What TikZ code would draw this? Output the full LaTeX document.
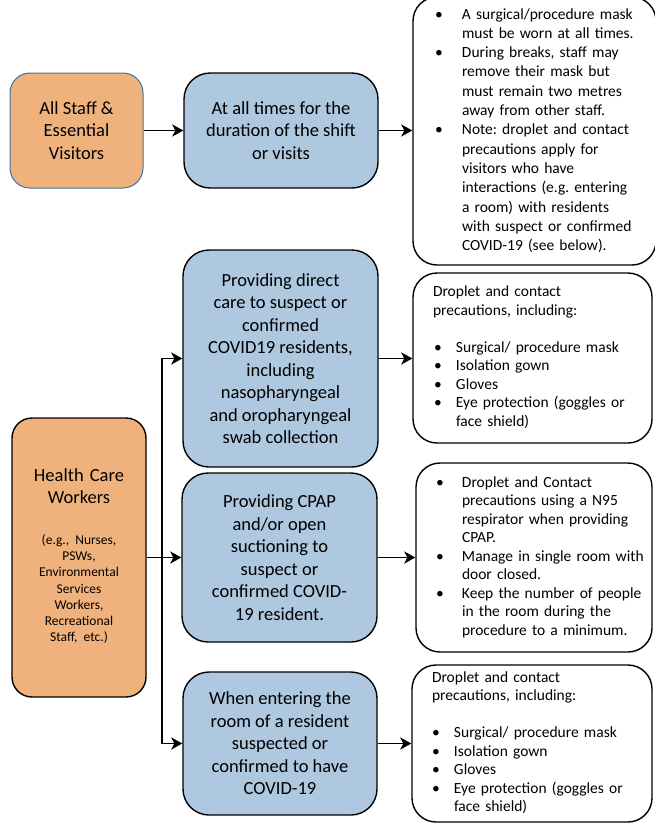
\documentclass[tikz,border=0pt]{standalone}
\usepackage{fontspec}
\setmainfont{Carlito}
\usepackage{tikz}
\usetikzlibrary{arrows.meta}

\definecolor{staffor}{RGB}{240,178,124}
\definecolor{taskblue}{RGB}{174,200,224}
\definecolor{edgeblue}{RGB}{65,113,156}

\frenchspacing
\newenvironment{blist}[2]{\noindent\begin{tabular}{@{\hspace{#1}}p{#2}@{}l@{}}}{\end{tabular}}

\begin{document}
\begin{tikzpicture}[x=1pt,y=-1pt,
		box/.style={rectangle,draw,line width=1.4pt,inner sep=0pt,align=center},
		who/.style={box,fill=staffor,rounded corners=20pt,font=\fontsize{18.5}{22.5}\selectfont},
		task/.style={box,fill=taskblue,rounded corners=26pt,font=\fontsize{18.5}{22.5}\selectfont},
		ppe/.style={box,rounded corners=24pt,align=left,inner xsep=20pt,font=\fontsize{15.5}{18.5}\selectfont},
		arr/.style={line width=1.9pt,-{Stealth[length=11pt,width=12pt,inset=3pt]}}]
		\useasboundingbox (0,0) rectangle (655,833);
		\node[who,draw=edgeblue,line width=1pt,minimum width=133pt,minimum height=115pt] (staff) at (76.5,130.5) {All Staff \&\\Essential\\Visitors};
		\node[task,minimum width=194pt,minimum height=115pt] (shift) at (281,130.5) {At all times for the\\duration of the shift\\or visits};
		\node[ppe,font=\fontsize{15.5}{19.3}\selectfont,text width=203pt,minimum height=268pt] (mask) at (534.5,131) {\begin{blist}{2pt}{27pt}
				\textbullet & A surgical/procedure mask\\
				& must be worn at all times.\\
				\textbullet & During breaks, staff may\\
				& remove their mask but\\
				& must remain two metres\\
				& away from other staff.\\
				\textbullet & Note: droplet and contact\\
				& precautions apply for\\
				& visitors who have\\
				& interactions (e.g. entering\\
				& a room) with residents\\
				& with suspect or confirmed\\
				& COVID-19 (see below).
			\end{blist}};
		\node[task,minimum width=195pt,minimum height=217pt] (care) at (280.5,358.5) {Providing direct\\care to suspect or\\confirmed\\COVID19 residents,\\including\\nasopharyngeal\\and oropharyngeal\\swab collection};
		\node[ppe,text width=199pt,minimum height=170pt] (dropa) at (532.5,358) {\begin{blist}{1pt}{22pt}
				\multicolumn{2}{@{}l@{}}{Droplet and contact}\\
				\multicolumn{2}{@{}l@{}}{precautions, including:}\\
				&\\
				\textbullet & Surgical/ procedure mask\\
				\textbullet & Isolation gown\\
				\textbullet & Gloves\\
				\textbullet & Eye protection (goggles or\\
				& face shield)
			\end{blist}};
		\node[who,minimum width=134pt,minimum height=279pt,text width=130pt] (hcw) at (79,557.5) {Health Care\\Workers\par\vspace{28pt}{\fontsize{13.5}{16.3}\selectfont\begin{tabular}{@{}c@{}}(e.g., Nurses,\\PSWs,\\Environmental\\Services\\Workers,\\Recreational\\Staff, etc.)\end{tabular}\par}};
		\node[task,minimum width=195pt,minimum height=169pt] (cpap) at (279.5,557.5) {Providing CPAP\\and/or open\\suctioning to\\suspect or\\confirmed COVID-\\19 resident.};
		\node[ppe,text width=196pt,minimum height=189pt] (nine) at (534,557.5) {\begin{blist}{0pt}{26pt}
				\textbullet & Droplet and Contact\\
				& precautions using a N95\\
				& respirator when providing\\
				& CPAP.\\
				\textbullet & Manage in single room with\\
				& door closed.\\
				\textbullet & Keep the number of people\\
				& in the room during the\\
				& procedure to a minimum.
			\end{blist}};
		\node[task,minimum width=194pt,minimum height=143pt] (enter) at (280,743.5) {When entering the\\room of a resident\\suspected or\\confirmed to have\\COVID-19};
		\node[ppe,text width=200pt,minimum height=157pt] (dropb) at (532,743.5) {\begin{blist}{0pt}{22pt}
				\multicolumn{2}{@{}l@{}}{Droplet and contact}\\
				\multicolumn{2}{@{}l@{}}{precautions, including:}\\
				&\\
				\textbullet & Surgical/ procedure mask\\
				\textbullet & Isolation gown\\
				\textbullet & Gloves\\
				\textbullet & Eye protection (goggles or\\
				& face shield)
			\end{blist}};
		\coordinate (jn) at (162,557.5);
		\draw[arr] (staff.east) -- (staff.east -| shift.west);
		\draw[arr] (shift.east) -- (shift.east -| mask.west);
		\draw[arr] (care.east) -- (care.east -| dropa.west);
		\draw[arr] (cpap.east) -- (cpap.east -| nine.west);
		\draw[arr] (enter.east) -- (enter.east -| dropb.west);
		\draw[arr] (hcw.east) -- (hcw.east -| cpap.west);
		\draw[arr] (jn |- enter.west) |- (care.west);
		\draw[arr] (jn |- care.west) |- (enter.west);
	\end{tikzpicture}
\end{document}
